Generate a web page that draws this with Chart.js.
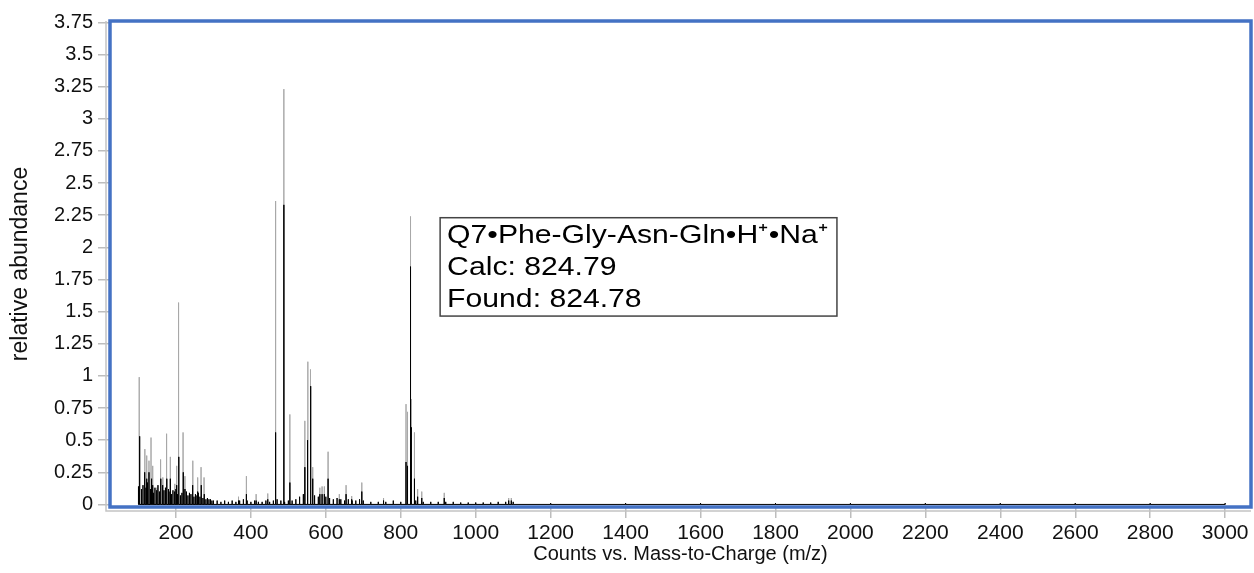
<!DOCTYPE html>
<html>
<head>
<meta charset="utf-8">
<script src="https://cdn.jsdelivr.net/npm/chart.js@4.4.0/dist/chart.umd.min.js"></script>
<style>
  html, body { margin: 0; padding: 0; background: #ffffff; }
  #wrap { width: 1254px; height: 573px; }
</style>
</head>
<body>
<div id="wrap"><canvas id="msChart" width="1254" height="573"></canvas></div>
<script>
// Picos principales (m/z) con la altura del trazo gris (alto) y del trazo negro
const peakMz    = [102, 117, 122, 128, 133.5, 138, 149, 159, 165, 175, 185, 197, 202, 207, 219, 224, 245, 258, 267, 275,
                   367, 388, 414, 445, 466, 488, 504, 544, 552, 559, 565, 584, 590, 596, 606, 636, 654, 669, 696, 754,
                   814, 818, 826, 828, 836.5, 845, 856, 916, 1088, 1095];
const peakGrey  = [0.99, 0.43, 0.38, 0.34, 0.52, 0.30, 0.13, 0.35, 0.21, 0.55, 0.37, 0.16, 0.30, 1.57, 0.56, 0.22, 0.34, 0.21, 0.29, 0.21,
                   0.06, 0.22, 0.08, 0.085, 2.36, 3.23, 0.70, 0.65, 1.11, 1.05, 0.29, 0.13, 0.14, 0.14, 0.41, 0.08, 0.15, 0.065, 0.17, 0.05,
                   0.78, 0.72, 2.24, 0.82, 0.56, 0.12, 0.10, 0.09, 0.05, 0.05];
const peakBlack = [0.53, 0.25, 0.20, 0.25, 0.20, 0.15, 0.10, 0.20, 0.15, 0.20, 0.20, 0.10, 0.15, 0.37, 0.25, 0.12, 0.15, 0.10, 0.15, 0.08,
                   0.03, 0.08, 0.03, 0.04, 0.56, 2.33, 0.17, 0.29, 0.50, 0.92, 0.20, 0.08, 0.08, 0.08, 0.20, 0.04, 0.08, 0.04, 0.10, 0.03,
                   0.33, 0.30, 1.85, 0.60, 0.20, 0.06, 0.05, 0.05, 0.03, 0.03];

// Ruido de fondo (hierba) leído a ojo de la imagen
const grassMz = [100, 104, 108, 112, 116, 120, 124, 128, 132, 136, 140, 144, 148, 152, 156, 160, 164, 168, 172, 176,
                 180, 184, 188, 192, 196, 200, 204, 208, 212, 216, 220, 224, 228, 232, 236, 240, 244, 248, 252, 256,
                 260, 264, 268, 272, 276, 280, 284, 288, 292, 296, 300,
                 310, 320, 330, 340, 350, 360, 370, 380, 390, 400, 410, 420, 430, 440, 450, 460, 470, 480, 490, 500,
                 510, 520, 530, 540, 550, 560, 570, 580, 590, 600, 610, 620, 630, 640, 650, 660, 670, 680, 690, 700,
                 720, 740, 760, 780, 800, 840, 860, 880, 900, 920, 940, 960, 980, 1000, 1020, 1040, 1060, 1080, 1100,
                 1200, 1400, 1600, 1800, 2000, 2200, 2400, 2600, 2800, 3000];
const grassH  = [0.14, 0.16, 0.12, 0.15, 0.11, 0.13, 0.17, 0.10, 0.12, 0.14, 0.09, 0.13, 0.11, 0.15, 0.10, 0.12, 0.08, 0.11, 0.13, 0.09,
                 0.12, 0.10, 0.08, 0.11, 0.09, 0.12, 0.08, 0.10, 0.07, 0.09, 0.11, 0.08, 0.10, 0.07, 0.09, 0.08, 0.10, 0.06, 0.08, 0.07,
                 0.09, 0.06, 0.07, 0.05, 0.06, 0.04, 0.05, 0.04, 0.04, 0.03, 0.03,
                 0.03, 0.02, 0.03, 0.02, 0.03, 0.02, 0.03, 0.04, 0.03, 0.02, 0.03, 0.02, 0.02, 0.03, 0.02, 0.03, 0.04, 0.03, 0.02, 0.03,
                 0.03, 0.04, 0.06, 0.08, 0.10, 0.09, 0.07, 0.06, 0.05, 0.06, 0.05, 0.04, 0.05, 0.04, 0.03, 0.04, 0.03, 0.03, 0.04, 0.03,
                 0.02, 0.02, 0.02, 0.03, 0.02, 0.03, 0.02, 0.02, 0.02, 0.02, 0.02, 0.015, 0.015, 0.015, 0.015, 0.015, 0.02, 0.02, 0.02,
                 0.01, 0.01, 0.01, 0.01, 0.01, 0.01, 0.01, 0.01, 0.01, 0.01];

const xTicks = [200, 400, 600, 800, 1000, 1200, 1400, 1600, 1800, 2000, 2200, 2400, 2600, 2800, 3000];
const yTicks = [0, 0.25, 0.5, 0.75, 1, 1.25, 1.5, 1.75, 2, 2.25, 2.5, 2.75, 3, 3.25, 3.5, 3.75];
const yTickLabels = ['0', '0.25', '0.5', '0.75', '1', '1.25', '1.5', '1.75', '2', '2.25', '2.5', '2.75', '3', '3.25', '3.5', '3.75'];

const annotLines = ['Q7\u2022Phe-Gly-Asn-Gln\u2022H\u207A\u2022Na\u207A', 'Calc: 824.79', 'Found: 824.78'];

// Convierte una lista de picos en "palitos" (0 -> altura -> 0)
function toSticks(mzList, hList) {
    const pairs = mzList.map((mz, i) => [mz, hList[i]]).sort((a, b) => a[0] - b[0]);
    const pts = [];
    pairs.forEach(([mz, h]) => {
        pts.push({x: mz, y: 0}, {x: mz, y: h}, {x: mz, y: 0});
    });
    return pts;
}

const greyData = toSticks(peakMz, peakGrey);
const blackData = toSticks(peakMz.concat(grassMz), peakBlack.concat(grassH));

const FONT = "'Liberation Sans', Arial, Helvetica, sans-serif";

// Marco azul, ejes grises desplazados y recuadro de anotación
const framePlugin = {
    id: 'frame',
    afterDatasetsDraw(chart) {
        const {ctx, chartArea: a, scales} = chart;
        ctx.save();
        // ejes grises por fuera del marco
        ctx.strokeStyle = '#c4c4c4';
        ctx.lineWidth = 1.5;
        ctx.beginPath();
        ctx.moveTo(a.left - 4, a.top);
        ctx.lineTo(a.left - 4, a.bottom + 4);
        ctx.lineTo(a.right, a.bottom + 4);
        ctx.stroke();
        // marco azul
        ctx.strokeStyle = '#4472c4';
        ctx.lineWidth = 3.5;
        ctx.strokeRect(a.left, a.top, a.right - a.left, a.bottom - a.top);

        // recuadro de anotación (posición en coordenadas de datos)
        const x0 = scales.x.getPixelForValue(905);
        const x1 = scales.x.getPixelForValue(1964);
        const y0 = scales.y.getPixelForValue(2.23);
        const y1 = scales.y.getPixelForValue(1.465);
        ctx.fillStyle = '#ffffff';
        ctx.fillRect(x0, y0, x1 - x0, y1 - y0);
        ctx.strokeStyle = '#444444';
        ctx.lineWidth = 1.5;
        ctx.strokeRect(x0, y0, x1 - x0, y1 - y0);
        ctx.fillStyle = '#000000';
        ctx.font = "26px " + FONT;
        ctx.textBaseline = 'alphabetic';
        ctx.textAlign = 'left';
        annotLines.forEach((t, i) => {
            ctx.save();
            ctx.translate(x0 + 7, y0 + 25 + i * 32);
            ctx.scale(1.16, 1);
            ctx.fillText(t, 0, 0);
            ctx.restore();
        });
        ctx.restore();
    }
};

new Chart(document.getElementById('msChart').getContext('2d'), {
    type: 'line',
    data: {
        datasets: [
            {
                label: 'grey',
                data: greyData,
                borderColor: '#a8a8a8',
                borderWidth: 1,
                pointRadius: 0,
                tension: 0,
                order: 2
            },
            {
                label: 'black',
                data: blackData,
                borderColor: '#000000',
                borderWidth: 1,
                pointRadius: 0,
                tension: 0,
                order: 1
            }
        ]
    },
    options: {
        responsive: false,
        animation: false,
        events: [],
        layout: { padding: { top: 21, right: 3, left: 0, bottom: 0 } },
        plugins: {
            legend: { display: false },
            tooltip: { enabled: false }
        },
        scales: {
            x: {
                type: 'linear',
                min: 24,
                max: 3069,
                afterBuildTicks: (scale) => { scale.ticks = xTicks.map(v => ({value: v})); },
                afterFit: (scale) => { scale.height = 66; },
                border: { display: false },
                grid: { drawOnChartArea: false, drawTicks: true, tickLength: 11, color: '#bdbdbd', lineWidth: 1.5 },
                ticks: {
                    autoSkip: false,
                    maxRotation: 0,
                    padding: 3,
                    color: '#111111',
                    font: { family: FONT, size: 21 },
                    callback: (v) => String(v)
                },
                title: {
                    display: true,
                    text: 'Counts vs. Mass-to-Charge (m/z)',
                    color: '#111111',
                    font: { family: FONT, size: 20 },
                    padding: { top: 0, bottom: 7 }
                }
            },
            y: {
                type: 'linear',
                min: -0.02,
                max: 3.76,
                afterBuildTicks: (scale) => { scale.ticks = yTicks.map(v => ({value: v})); },
                afterFit: (scale) => { scale.width = 110; },
                border: { display: false },
                grid: { drawOnChartArea: false, drawTicks: true, tickLength: 12, color: '#bdbdbd', lineWidth: 1.5 },
                ticks: {
                    autoSkip: false,
                    padding: 5,
                    color: '#111111',
                    font: { family: FONT, size: 20 },
                    callback: (v) => yTickLabels[yTicks.indexOf(v)]
                },
                title: {
                    display: true,
                    text: 'relative abundance',
                    color: '#111111',
                    font: { family: FONT, size: 23 },
                    padding: { top: 7, bottom: 0 }
                }
            }
        }
    },
    plugins: [framePlugin]
});
</script>
</body>
</html>
